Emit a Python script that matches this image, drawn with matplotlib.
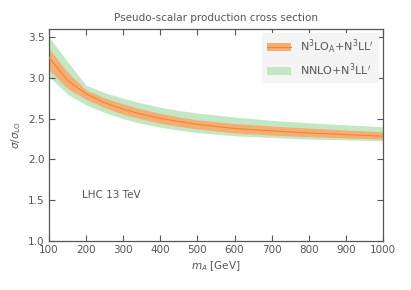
import matplotlib
matplotlib.use("Agg")
import matplotlib.pyplot as plt
from matplotlib.patches import Patch
from matplotlib.lines import Line2D

mA = [100, 150, 200, 250, 300, 350, 400, 450, 500, 600, 700, 800, 900, 1000]
n3lo_center = [3.25, 2.97, 2.805, 2.695, 2.615, 2.555, 2.505, 2.465, 2.43, 2.38, 2.35, 2.325, 2.305, 2.285]
n3lo_lo = [3.10, 2.87, 2.74, 2.635, 2.555, 2.495, 2.445, 2.405, 2.375, 2.325, 2.30, 2.28, 2.265, 2.25]
n3lo_hi = [3.36, 3.07, 2.85, 2.755, 2.68, 2.615, 2.565, 2.52, 2.485, 2.44, 2.41, 2.385, 2.36, 2.34]
nnlo_lo = [3.02, 2.80, 2.67, 2.575, 2.50, 2.44, 2.395, 2.36, 2.33, 2.29, 2.27, 2.25, 2.24, 2.23]
nnlo_hi = [3.50, 3.20, 2.91, 2.82, 2.75, 2.69, 2.64, 2.60, 2.57, 2.52, 2.48, 2.45, 2.425, 2.40]

label_n3lo = r"N$^3$LO$_{\rm A}$+N$^3$LL$'$"
label_nnlo = r"NNLO+N$^3$LL$'$"

gray = "#555555"
plt.rcParams["mathtext.fontset"] = "dejavusans"
plt.rcParams["font.family"] = ["DejaVu Sans"]

fig = plt.figure(figsize=(4.11, 2.90), dpi=100)
ax = fig.add_axes([0.119, 0.169, 0.813, 0.731])

green = "#c3e6c3"
orange_fill = "#f4ad72"
orange_line = "#f5842a"

ax.fill_between(mA, nnlo_lo, nnlo_hi, color=green, lw=0, zorder=1)
ax.fill_between(mA, n3lo_lo, n3lo_hi, color=orange_fill, lw=0, zorder=2)
ax.plot(mA, n3lo_center, color=orange_line, lw=0.8, zorder=3)

ax.set_xlim(100, 1000)
ax.set_ylim(1.0, 3.6)
ax.set_xticks(range(100, 1001, 100))
ax.set_yticks([1.0, 1.5, 2.0, 2.5, 3.0, 3.5])
ax.tick_params(direction="in", top=True, right=True, length=4, width=0.8,
               colors=gray, labelsize=7.5, labelcolor=gray, pad=3)
for s in ax.spines.values():
    s.set_color(gray)
    s.set_linewidth(0.9)

ax.set_title("Pseudo-scalar production cross section", fontsize=7.5, color=gray, pad=6)
ax.set_xlabel(r"$m_A$ [GeV]", fontsize=7.5, color=gray, labelpad=3)
ax.set_ylabel(r"$\sigma/\sigma_{\rm LO}$", fontsize=7.5, color=gray, labelpad=4)

ax.text(0.10, 0.217, "LHC 13 TeV", transform=ax.transAxes, fontsize=7.5,
        color=gray, ha="left", va="center")

h1 = (Patch(facecolor=orange_fill, edgecolor="none"), Line2D([], [], color=orange_line, lw=0.8))
h2 = Patch(facecolor=green, edgecolor="none")
leg = ax.legend([h1, h2], [label_n3lo, label_nnlo], loc="upper right",
                fontsize=8, frameon=True, fancybox=False, framealpha=1,
                facecolor="#f4f4f4", edgecolor="none", labelcolor=gray,
                handlelength=2.2, borderaxespad=0.4)

fig.savefig("out.png", dpi=100)
